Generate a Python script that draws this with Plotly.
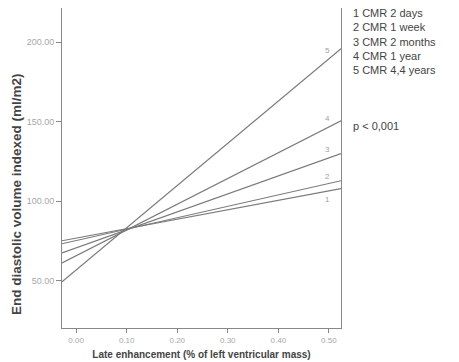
import plotly.graph_objects as go

# Data
series_labels = ["1", "2", "3", "4", "5"]
legend_lines = ["1 CMR 2 days", "2 CMR 1 week", "3 CMR 2 months", "4 CMR 1 year", "5 CMR 4,4 years"]
x_ends = [-0.028, 0.524]
y_start = [75.2, 73.3, 67.6, 61.3, 49.4]
y_end = [107.9, 112.9, 129.9, 150.6, 195.9]
label_x = 0.497
label_y = [101.0, 115.4, 132.4, 151.9, 194.7]
x_ticks = [0.0, 0.1, 0.2, 0.3, 0.4, 0.5]
y_ticks = [50, 100, 150, 200]
p_text = "p < 0,001"
y_title = "End diastolic volume indexed (ml/m2)"
x_title = "Late enhancement (% of left ventricular mass)"

fig = go.Figure()
for i, lab in enumerate(series_labels):
    fig.add_trace(go.Scatter(
        x=x_ends, y=[y_start[i], y_end[i]], mode="lines",
        line=dict(color="#7a7a7a", width=1.2), showlegend=False, hoverinfo="skip"))
    fig.add_annotation(x=label_x, y=label_y[i], text=lab, showarrow=False,
                       font=dict(family="Liberation Sans, Arial", size=8, color="#a0a0a0"))

fig.add_annotation(xref="paper", yref="paper", x=1.035, y=1.01, xanchor="left", yanchor="top",
                   text="<br>".join(legend_lines), align="left", showarrow=False,
                   font=dict(family="Liberation Sans, Arial", size=11, color="#444444"))
fig.add_annotation(xref="paper", yref="y", x=1.035, y=147, xanchor="left", yanchor="middle",
                   text=p_text, align="left", showarrow=False,
                   font=dict(family="Liberation Sans, Arial", size=11, color="#444444"))
fig.add_annotation(xref="paper", yref="paper", x=-0.161, y=0.419, xanchor="center", yanchor="middle",
                   text="<b>" + y_title + "</b>", textangle=-90, showarrow=False,
                   font=dict(family="Liberation Sans, Arial", size=13.5, color="#444444"))

# page body has an 8px margin: figure sized/offset to compensate
fig.update_layout(
    width=451, height=354,
    margin=dict(l=54, r=118, t=0, b=34, autoexpand=False),
    paper_bgcolor="white", plot_bgcolor="white",
    font=dict(family="Liberation Sans, Arial"),
    xaxis=dict(range=[-0.028, 0.524], tickvals=x_ticks, automargin=False,
               ticktext=[f"{v:.2f}" for v in x_ticks],
               ticks="outside", ticklen=4, tickcolor="#888", showgrid=False, zeroline=False,
               showline=True, linecolor="#888", linewidth=1, mirror=True,
               tickfont=dict(size=8, color="#a8a8a8"),
               title=dict(text="<b>" + x_title + "</b>",
                          font=dict(size=10, color="#444444"), standoff=7)),
    yaxis=dict(range=[20.4, 221.4], tickvals=y_ticks, automargin=False,
               ticktext=[f"{v:.2f}" for v in y_ticks],
               ticks="outside", ticklen=5, tickcolor="#888", showgrid=False, zeroline=False,
               showline=True, linecolor="#888", linewidth=1, mirror=True,
               tickfont=dict(size=9, color="#a8a8a8")),
)

fig.write_html("out.html")
